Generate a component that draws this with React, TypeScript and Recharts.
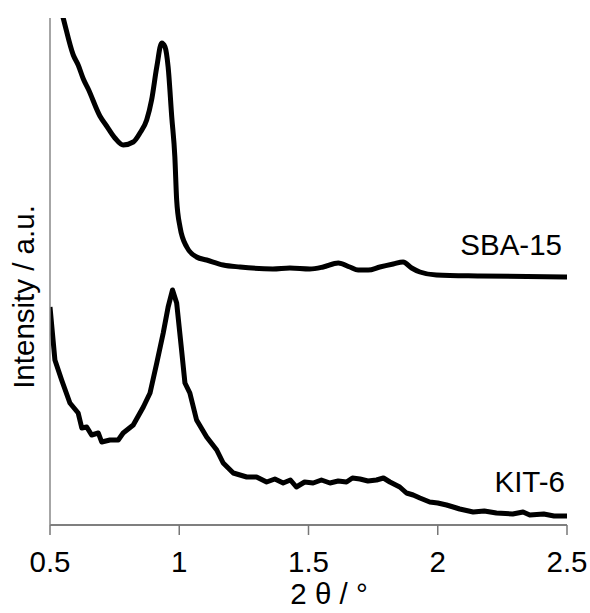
import { LineChart, Line, XAxis, YAxis, Label } from "recharts"

// 2θ positions and intensities (a.u.)
const sbaTheta = [
  0.519, 0.551, 0.59, 0.609, 0.629, 0.648, 0.693, 0.719, 0.751, 0.783, 0.822, 0.848, 0.874, 0.893,
  0.913, 0.932, 0.945, 0.957, 0.971, 0.983, 0.99, 1.003, 1.029, 1.067, 1.106, 1.17, 1.235, 1.362,
  1.428, 1.505, 1.557, 1.615, 1.66, 1.692, 1.731, 1.776, 1.828, 1.866, 1.899, 1.931, 1.995, 2.163, 2.5,
]
const sbaIntensity = [
  538, 507, 470, 460, 446, 436, 409, 399, 387, 380, 383, 392, 405, 425,
  458, 482, 478, 458, 408, 368, 325, 298, 278, 268, 265, 260, 258, 256,
  257, 256, 258, 262, 258, 255, 255, 258, 261, 263, 257, 253, 250, 249, 248,
]

const kitTheta = [
  0.5, 0.519, 0.545, 0.577, 0.609, 0.623, 0.642, 0.661, 0.687, 0.7, 0.732, 0.764, 0.783, 0.822,
  0.861, 0.887, 0.913, 0.938, 0.957, 0.974, 0.99, 1.009, 1.022, 1.041, 1.067, 1.106, 1.145, 1.17,
  1.209, 1.261, 1.299, 1.338, 1.37, 1.402, 1.43, 1.453, 1.485, 1.518, 1.55, 1.583, 1.615, 1.647,
  1.67, 1.699, 1.73, 1.763, 1.79, 1.815, 1.853, 1.879, 1.905, 1.931, 1.969, 2.0, 2.034, 2.06,
  2.085, 2.137, 2.18, 2.227, 2.29, 2.33, 2.356, 2.41, 2.45, 2.5,
]
const kitIntensity = [
  218, 165, 145, 122, 112, 97, 98, 90, 92, 83, 85, 85, 92, 100,
  118, 132, 162, 192, 218, 235, 222, 175, 142, 132, 105, 88, 75, 62,
  52, 48, 48, 43, 46, 42, 45, 38, 43, 42, 45, 42, 44, 43,
  47, 46, 44, 45, 47, 43, 38, 32, 30, 27, 23, 22, 20, 18,
  16, 13, 14, 12, 11, 13, 10, 11, 9, 9,
]

const xTicks = [0.5, 1, 1.5, 2, 2.5]

const sbaData = sbaTheta.map((x, i) => ({ x, y: sbaIntensity[i] }))
const kitData = kitTheta.map((x, i) => ({ x, y: kitIntensity[i] }))

const font = "'Liberation Sans', Arial, sans-serif"
const fs = 29.5

export default function App() {
  return (
    <div style={{ position: "absolute", left: 0, top: 0, background: "#fff" }}>
      <LineChart width={590} height={613} margin={{ top: 18, right: 23, left: 0, bottom: 0 }}>
        <XAxis
          type="number"
          dataKey="x"
          domain={[0.5, 2.5]}
          ticks={xTicks}
          allowDataOverflow
          height={88}
          axisLine={{ stroke: "#555", strokeWidth: 1.5 }}
          tickLine={{ stroke: "#777", strokeWidth: 1.5 }}
          tickSize={10}
          tickMargin={16}
          tick={{ fill: "#000", fontSize: fs, fontFamily: font }}
          tickFormatter={(v) => String(v)}
        >
          <Label
            content={() => (
              <text x={329} y={604} textAnchor="middle" fontSize={fs} fontFamily={font} fill="#000">
                2 θ / °
              </text>
            )}
          />
        </XAxis>
        <YAxis
          type="number"
          dataKey="y"
          domain={[0, 507]}
          allowDataOverflow
          width={50}
          tick={false}
          tickLine={false}
          axisLine={{ stroke: "#888", strokeWidth: 1.5 }}
        >
          <Label
            content={() => (
              <text
                x={34}
                y={297}
                transform="rotate(-90, 34, 297)"
                textAnchor="middle"
                fontSize={fs}
                fontFamily={font}
                fill="#000"
              >
                Intensity / a.u.
              </text>
            )}
          />
        </YAxis>
        <Line
          data={sbaData}
          dataKey="y"
          type="monotone"
          stroke="#000"
          strokeWidth={5}
          strokeLinejoin="round"
          dot={false}
          isAnimationActive={false}
        />
        <Line
          data={kitData}
          dataKey="y"
          type="linear"
          stroke="#000"
          strokeWidth={5}
          strokeLinejoin="round"
          dot={false}
          isAnimationActive={false}
        />
        <text x={562} y={255} textAnchor="end" fontSize={fs} fontFamily={font} fill="#000">
          SBA-15
        </text>
        <text x={565} y={492} textAnchor="end" fontSize={fs} fontFamily={font} fill="#000">
          KIT-6
        </text>
      </LineChart>
    </div>
  )
}
